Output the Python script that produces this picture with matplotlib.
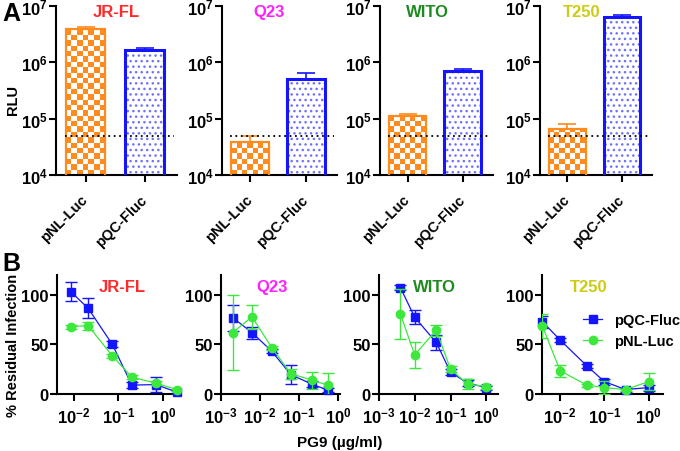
import numpy as np
import matplotlib
matplotlib.use('Agg')
import matplotlib.pyplot as plt
from matplotlib.colors import ListedColormap
from matplotlib.ticker import FixedLocator, FuncFormatter, NullLocator

plt.rcParams['font.family'] = ['Liberation Sans', 'DejaVu Sans']
plt.rcParams['font.weight'] = 'bold'
plt.rcParams['mathtext.fontset'] = 'custom'
plt.rcParams['mathtext.rm'] = 'Liberation Sans:bold'
plt.rcParams['mathtext.bf'] = 'Liberation Sans:bold'
plt.rcParams['mathtext.it'] = 'Liberation Sans:bold:italic'

# panel A: luciferase signal per strain
strains = ['JR-FL', 'Q23', 'WITO', 'T250']
strain_colors = ['#ff2a2a', '#ff22ff', '#1f8a1f', '#cccc14']
constructs = ['pNL-Luc', 'pQC-Fluc']
rlu_nl = [3.9e6, 3.8e4, 1.1e5, 6.5e4]
rlu_nl_err = [0.4e6, 1.1e4, 1.1e4, 1.4e4]
rlu_qc = [1.67e6, 5.0e5, 7.1e5, 6.3e6]
rlu_qc_err = [0.13e6, 1.5e5, 0.5e5, 0.6e6]
cutoff = 5e4
rlu_ticks = [1e4, 1e5, 1e6, 1e7]

# panel B: PG9 neutralization (% residual infection)
conc = [
    [0.0085, 0.021, 0.073, 0.2, 0.69, 2.0],
    [0.002, 0.0062, 0.02, 0.061, 0.21, 0.53],
    [0.004, 0.01, 0.04, 0.1, 0.3, 1.0],
    [0.004, 0.01, 0.04, 0.1, 0.3, 1.0],
]
qc_inf = [
    [103.4, 86.5, 50, 9, 9.5, 2],
    [77, 62, 43, 19.5, 10, 4],
    [107.5, 77.5, 52, 22, 11, 6.5],
    [73, 54.5, 28.5, 12.5, 4.5, 6.5],
]
qc_err = [
    [10, 10, 3, 3, 7.5, 2],
    [13, 6, 2, 9.5, 3, 2],
    [3, 7, 8, 3, 3, 2],
    [6, 2, 2, 3, 2, 3],
]
nl_inf = [
    [68, 69, 38.5, 17, 11, 4.5],
    [62, 78, 46.5, 20.5, 14, 9],
    [81, 39.5, 64.5, 25, 10, 7.5],
    [68.5, 23.5, 9, 6.5, 4.5, 12.5],
]
nl_err = [
    [2, 4, 2, 2, 2, 1],
    [38, 12, 2, 5, 8.5, 12.5],
    [25.5, 13, 5.5, 3, 5, 2],
    [12, 6, 1.5, 6.5, 1, 8.5],
]
inf_ticks = [0, 50, 100]

orange = '#ff8a1e'
blue = '#1414ff'
green = '#3de83d'

# layout (figure fractions)
a_left = [0.0824, 0.3265, 0.5588, 0.794]
a_width = [0.178, 0.169, 0.166, 0.165]
a_title_x = [0.50, 0.41, 0.42, 0.375]
b_left = [0.0838, 0.325, 0.557, 0.797]
b_width = [0.1765, 0.175, 0.175, 0.178]
b_xlim = [(0.0042, 2.05), (1e-3, 1.1), (1e-3, 2.07), (0.0039, 2.1)]
b_title_x = [0.54, 0.43, 0.47, 0.39]

fig = plt.figure(figsize=(6.8, 4.52), dpi=100)

def decade_fmt(v, pos):
    return r'$\mathbf{10^{%d}}$' % int(round(np.log10(v)))

bw = 0.67
for i, s in enumerate(strains):
    ax = fig.add_axes([a_left[i], 0.6106, a_width[i], 0.3739])
    ax.set_yscale('log')
    ax.set_ylim(1e4, 1e7)
    ax.set_xlim(-0.5, 1.55)

    b1 = ax.bar(0, rlu_nl[i], bw, facecolor='none', edgecolor=orange, lw=1.6, zorder=3)
    # checkerboard fill for the pNL-Luc bar
    step = bw / 7
    xe = np.linspace(-bw / 2, bw / 2, 8)
    ye = 10 ** np.arange(4, np.log10(rlu_nl[i]) + step, step)
    cc = np.add.outer(np.arange(len(ye) - 1), np.arange(7)) % 2
    mesh = ax.pcolormesh(xe, ye, cc, cmap=ListedColormap([orange, 'white']), shading='flat', zorder=2)
    mesh.set_clip_path(b1[0])
    ax.errorbar(0, rlu_nl[i], yerr=[[0], [rlu_nl_err[i]]], fmt='none', ecolor=orange,
                elinewidth=1.2, capsize=6.5, capthick=1.2, zorder=2.5)

    ax.bar(1, rlu_qc[i], bw, facecolor='white', edgecolor='#7070ff', hatch='...', lw=0, zorder=2)
    ax.bar(1, rlu_qc[i], bw, fill=False, edgecolor=blue, lw=2.2, zorder=3)
    ax.errorbar(1, rlu_qc[i], yerr=[[0], [rlu_qc_err[i]]], fmt='none', ecolor=blue,
                elinewidth=1.2, capsize=6.5, capthick=1.2, zorder=2.5)

    ax.hlines(cutoff, -0.35, 1.5, colors='black', linestyles=(0, (1, 2)), lw=1.3, zorder=4)

    for sp in ['top', 'right']:
        ax.spines[sp].set_visible(False)
    for sp in ['left', 'bottom']:
        ax.spines[sp].set_linewidth(1.5)
    ax.yaxis.set_major_locator(FixedLocator(rlu_ticks))
    ax.yaxis.set_minor_locator(NullLocator())
    ax.yaxis.set_major_formatter(FuncFormatter(decade_fmt))
    ax.tick_params(axis='x', length=5, width=1.5, pad=11, labelsize=10.5)
    ax.tick_params(axis='y', length=5, width=1.5, pad=1, labelsize=12)
    ax.set_xticks([0, 1], labels=constructs)
    for lab in ax.get_xticklabels():
        lab.set_rotation(45)
        lab.set_horizontalalignment('right')
        lab.set_verticalalignment('center')
        lab.set_rotation_mode('anchor')
    ax.text(a_title_x[i], 0.967, s, transform=ax.transAxes, color=strain_colors[i],
            fontsize=12, fontweight='bold', ha='center', va='center')
    if i == 0:
        ax.set_ylabel('RLU', fontsize=10.5, fontweight='bold')
        ax.yaxis.set_label_coords(-0.30, 0.45)

for i, s in enumerate(strains):
    ax = fig.add_axes([b_left[i], 0.1261, b_width[i], 0.263])
    ax.set_xscale('log')
    ax.set_xlim(*b_xlim[i])
    ax.set_ylim(0, 120)

    ax.errorbar(conc[i], qc_inf[i], yerr=qc_err[i], fmt='none', ecolor=blue,
                elinewidth=1, capsize=4, capthick=1, zorder=3)
    ax.plot(conc[i], qc_inf[i], '-s', color=blue, ms=6, lw=0.9, label='pQC-Fluc',
            zorder=4, clip_on=False)
    ax.errorbar(conc[i], nl_inf[i], yerr=nl_err[i], fmt='none', ecolor=green,
                elinewidth=1, capsize=4, capthick=1, zorder=5)
    ax.plot(conc[i], nl_inf[i], '-o', color=green, ms=6, lw=0.9, label='pNL-Luc',
            zorder=6, clip_on=False)

    for sp in ['top', 'right']:
        ax.spines[sp].set_visible(False)
    for sp in ['left', 'bottom']:
        ax.spines[sp].set_linewidth(1.5)
    ax.xaxis.set_minor_locator(NullLocator())
    ax.xaxis.set_major_formatter(FuncFormatter(decade_fmt))
    ax.set_yticks(inf_ticks)
    ax.tick_params(axis='both', length=5, width=1.5, labelsize=12)
    ax.tick_params(axis='y', pad=1)
    ax.text(b_title_x[i], 0.905, s, transform=ax.transAxes, color=strain_colors[i],
            fontsize=12, fontweight='bold', ha='center', va='center')
    if i == 0:
        ax.set_ylabel('% Residual Infection', fontsize=10.5, fontweight='bold')
        ax.yaxis.set_label_coords(-0.31, 0.42)
    if i == 3:
        ax.legend(loc='center left', bbox_to_anchor=(0.34, 0.533), frameon=False,
                  borderpad=0, borderaxespad=0, handlelength=1.3, handletextpad=0.8,
                  labelspacing=0.45, prop={'size': 10.5, 'weight': 'bold'})

fig.text(0.5, 0.02, 'PG9 (µg/ml)', ha='center', va='center', fontsize=11, fontweight='bold')
fig.text(0.003, 0.995, 'A', ha='left', va='top', fontsize=18, fontweight='bold')
fig.text(0.003, 0.443, 'B', ha='left', va='top', fontsize=18, fontweight='bold')

fig.savefig('out.png', dpi=100)
